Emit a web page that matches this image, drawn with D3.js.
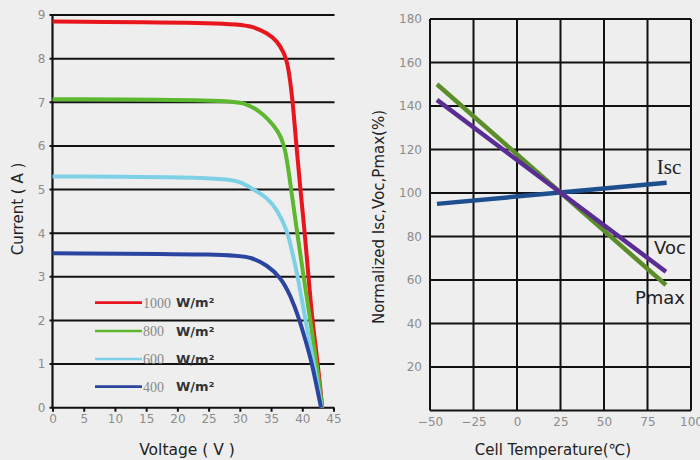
<!DOCTYPE html>
<html>
<head>
<meta charset="utf-8">
<script src="https://cdn.jsdelivr.net/npm/d3@7"></script>
<style>
  body { margin: 0; background: #eeeeee; }
  svg { display: block; }
</style>
</head>
<body>
<div id="chart"></div>
<script>
// I-V curves, left panel (voltage V, current A)
var irr1000 = [[0,8.85],[29,8.82],[32,8.74],[34.4,8.59],[36,8.4],[37,8.15],[37.7,7.9],[38.5,7.0],[39.05,6],[39.7,5],[40.4,4],[41,3],[41.6,2],[42.5,1],[43.2,0]];
var irr800 = [[0,7.07],[28.5,7.05],[31,6.97],[32.8,6.83],[34.5,6.62],[36,6.37],[37.3,6],[38.2,5],[39.2,4],[40.2,3],[41.3,2],[42.3,1],[43.2,0]];
var irr600 = [[0,5.3],[27.9,5.28],[30.5,5.15],[32.2,5.0],[34.5,4.8],[36,4.53],[37.6,4.07],[38.5,3.5],[39.3,3],[40.5,2],[41.9,1],[43.1,0]];
var irr400 = [[0,3.54],[29,3.52],[32,3.44],[34.3,3.27],[36.5,3.0],[38.1,2.58],[39.6,2.0],[40.6,1.5],[41.6,1],[43.0,0]];
var irrNames = ["1000", "800", "600", "400"];
var irrColors = ["#e8151d", "#5cb82e", "#7dd0e6", "#2b44a0"];
var voltTicks = [0,5,10,15,20,25,30,35,40,45];
var currTicks = [0,1,2,3,4,5,6,7,8,9];

// temperature coefficients, right panel (deg C, %)
var iscLine = [[-46,95],[86,104.7]];
var vocLine = [[-46,142.8],[85.6,63.8]];
var pmaxLine = [[-46,150],[85.6,57.7]];
var tempTicks = [-50,-25,0,25,50,75,100];
var pctGrid = [0,20,40,60,80,100,120,140,160,180];
var pctTicks = [20,40,60,80,100,120,140,160,180];

var W = 700, H = 460;
var svg = d3.select("#chart").append("svg")
    .attr("width", W)
    .attr("height", H);

svg.append("rect").attr("width", W).attr("height", H).attr("fill", "#eeeeee");

var tickFont = "DejaVu Sans, Verdana, sans-serif";

// ---------------- left panel
var xV = d3.scaleLinear().domain([0,45]).range([52.5,333.5]);
var yI = d3.scaleLinear().domain([0,9]).range([407.7,15]);

var gL = svg.append("g");

gL.selectAll(".hg").data(currTicks).enter().append("line")
    .attr("x1", xV(0) - 3).attr("x2", xV(45) + 1)
    .attr("y1", function(d){ return yI(d); })
    .attr("y2", function(d){ return yI(d); })
    .attr("stroke", "#111").attr("stroke-width", 2);

gL.append("line")
    .attr("x1", xV(0)).attr("x2", xV(0))
    .attr("y1", yI(0)).attr("y2", yI(9))
    .attr("stroke", "#111").attr("stroke-width", 2.2);

var yAxL = gL.append("g")
    .attr("transform", "translate(" + xV(0) + ",0)")
    .call(d3.axisLeft(yI).tickValues(currTicks).tickSize(0).tickPadding(7));
var xAxL = gL.append("g")
    .attr("transform", "translate(0," + yI(0) + ")")
    .call(d3.axisBottom(xV).tickValues(voltTicks).tickSize(4).tickPadding(3));

[yAxL, xAxL].forEach(function(a){
    a.select(".domain").remove();
    a.selectAll(".tick line").attr("stroke", "#111").attr("stroke-width", 2);
    a.selectAll("text").attr("fill", "#8c8c8c").style("font-family", tickFont).style("font-size", "12px");
});

var lineV = d3.line()
    .x(function(d){ return xV(d[0]); })
    .y(function(d){ return yI(d[1]); })
    .curve(d3.curveBasis);

var curves = [irr1000, irr800, irr600, irr400];
gL.selectAll(".iv").data(curves).enter().append("path")
    .attr("d", lineV)
    .attr("fill", "none")
    .attr("stroke", function(d, i){ return irrColors[i]; })
    .attr("stroke-width", 4)
    .attr("stroke-linejoin", "round");

// legend
var legY = [302.7, 331, 359, 386.7];
var leg = gL.selectAll(".leg").data(irrNames).enter().append("g")
    .attr("transform", function(d, i){ return "translate(0," + legY[i] + ")"; });
leg.append("line")
    .attr("x1", 95).attr("x2", 142)
    .attr("stroke", function(d, i){ return irrColors[i]; })
    .attr("stroke-width", 2.7);
leg.append("text")
    .attr("x", 143).attr("dy", "0.35em")
    .style("font-family", "Liberation Serif, serif").style("font-size", "14px")
    .attr("fill", "#888")
    .text(function(d){ return d; });
leg.append("text")
    .attr("x", 176).attr("dy", "0.35em")
    .style("font-family", tickFont).style("font-size", "13px")
    .style("font-weight", "bold")
    .attr("fill", "#333")
    .text("W/m²");

gL.append("text")
    .attr("transform", "translate(23,209) rotate(-90)")
    .attr("text-anchor", "middle")
    .style("font-family", tickFont).style("font-size", "15px")
    .attr("fill", "#222")
    .text("Current ( A )");
gL.append("text")
    .attr("x", 187).attr("y", 455)
    .attr("text-anchor", "middle")
    .style("font-family", tickFont).style("font-size", "15.5px")
    .attr("fill", "#222")
    .text("Voltage ( V )");

// ---------------- right panel
var xT = d3.scaleLinear().domain([-50,100]).range([430,691]);
var yP = d3.scaleLinear().domain([0,180]).range([410.5,19]);

var gR = svg.append("g");

gR.selectAll(".vg").data(tempTicks).enter().append("line")
    .attr("x1", function(d){ return xT(d); })
    .attr("x2", function(d){ return xT(d); })
    .attr("y1", yP(0)).attr("y2", yP(180))
    .attr("stroke", "#111").attr("stroke-width", 2);
gR.selectAll(".pg").data(pctGrid).enter().append("line")
    .attr("x1", xT(-50)).attr("x2", xT(100))
    .attr("y1", function(d){ return yP(d); })
    .attr("y2", function(d){ return yP(d); })
    .attr("stroke", "#111").attr("stroke-width", 2);

var yAxR = gR.append("g")
    .attr("transform", "translate(" + xT(-50) + ",0)")
    .call(d3.axisLeft(yP).tickValues(pctTicks).tickSize(0).tickPadding(8));
var xAxR = gR.append("g")
    .attr("transform", "translate(0," + yP(0) + ")")
    .call(d3.axisBottom(xT).tickValues(tempTicks).tickSize(0).tickPadding(7)
        .tickFormat(function(d){ return d < 0 ? "\u2212" + (-d) : d; }));

[yAxR, xAxR].forEach(function(a){
    a.select(".domain").remove();
    a.selectAll("text").attr("fill", "#8c8c8c").style("font-family", tickFont).style("font-size", "12px");
});

var lineT = d3.line()
    .x(function(d){ return xT(d[0]); })
    .y(function(d){ return yP(d[1]); });

var tLines = [
    {pts: iscLine, color: "#1d4f8f"},
    {pts: pmaxLine, color: "#5c8d2b"},
    {pts: vocLine, color: "#5a2d93"}
];
gR.selectAll(".tl").data(tLines).enter().append("path")
    .attr("d", function(d){ return lineT(d.pts); })
    .attr("fill", "none")
    .attr("stroke", function(d){ return d.color; })
    .attr("stroke-width", 4.5);

gR.append("text")
    .attr("x", 669).attr("y", 167).attr("dy", "0.35em")
    .attr("text-anchor", "middle")
    .style("font-family", "Liberation Serif, serif").style("font-size", "21px")
    .attr("fill", "#222")
    .text("Isc");
gR.append("text")
    .attr("x", 670).attr("y", 248).attr("dy", "0.35em")
    .attr("text-anchor", "middle")
    .style("font-family", tickFont).style("font-size", "18px")
    .attr("fill", "#222")
    .text("Voc");
gR.append("text")
    .attr("x", 660).attr("y", 298).attr("dy", "0.35em")
    .attr("text-anchor", "middle")
    .style("font-family", tickFont).style("font-size", "18px")
    .attr("fill", "#222")
    .text("Pmax");

gR.append("text")
    .attr("transform", "translate(384,217) rotate(-90)")
    .attr("text-anchor", "middle")
    .style("font-family", tickFont).style("font-size", "15px")
    .attr("fill", "#222")
    .text("Normalized Isc,Voc,Pmax(%)");
gR.append("text")
    .attr("x", 553).attr("y", 455)
    .attr("text-anchor", "middle")
    .style("font-family", tickFont).style("font-size", "15px")
    .attr("fill", "#222")
    .text("Cell Temperature(\u2103)");
</script>
</body>
</html>
